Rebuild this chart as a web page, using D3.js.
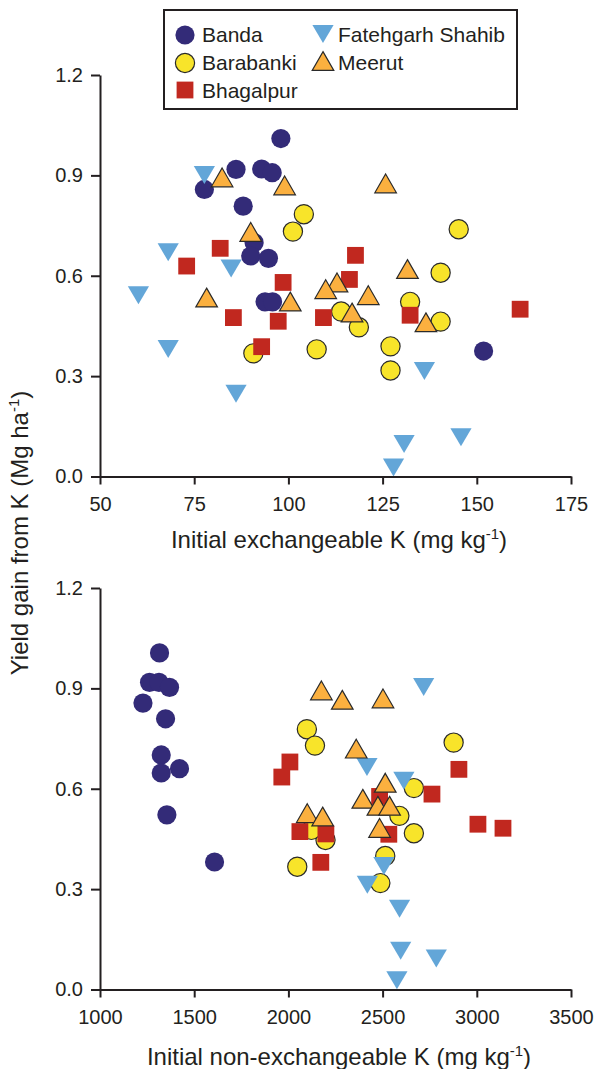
<!DOCTYPE html>
<html>
<head>
<meta charset="utf-8">
<script src="https://cdn.jsdelivr.net/npm/d3@7"></script>
<style>
  html, body { margin: 0; padding: 0; background: #fff; }
  svg { display: block; font-family: "Liberation Sans", Arial, sans-serif; }
</style>
</head>
<body>
<svg id="chart" width="597" height="1069"></svg>
<script>
// ---------- data ----------
const siteNames = ["Banda", "Barabanki", "Bhagalpur", "Fatehgarh Shahib", "Meerut"];
const yTicks = [0.0, 0.3, 0.6, 0.9, 1.2];
const exTicks = [50, 75, 100, 125, 150, 175];
const nonExTicks = [1000, 1500, 2000, 2500, 3000, 3500];

// Top panel: [initial exchangeable K, yield gain]
const bandaEx = [[98.0,1.01],[86.1,0.918],[92.9,0.919],[95.7,0.908],[77.7,0.858],[88.0,0.808],[90.9,0.699],[90.0,0.659],[94.7,0.652],[93.8,0.522],[95.8,0.522],[151.8,0.375]];
const barabankiEx = [[104.1,0.784],[101.2,0.732],[145.2,0.739],[140.4,0.609],[132.3,0.522],[114.0,0.493],[118.7,0.446],[140.4,0.463],[107.5,0.380],[127.1,0.389],[127.1,0.317],[90.7,0.368]];
const bhagalpurEx = [[81.9,0.682],[73.0,0.629],[98.6,0.580],[85.4,0.475],[97.3,0.464],[92.9,0.388],[109.3,0.475],[117.8,0.661],[116.2,0.589],[132.3,0.482],[161.5,0.500]];
const fatehgarhEx = [[77.7,0.901],[68.1,0.670],[84.8,0.622],[60.2,0.542],[68.1,0.381],[86.1,0.247],[136.1,0.315],[130.7,0.097],[145.8,0.117],[127.9,0.027]];
const meerutEx = [[82.4,0.894],[99.0,0.870],[125.8,0.876],[90.0,0.731],[78.3,0.535],[100.5,0.523],[131.6,0.620],[112.9,0.580],[109.9,0.560],[121.2,0.542],[116.9,0.490],[136.5,0.461]];

// Bottom panel: [initial non-exchangeable K, yield gain]
const bandaNonEx = [[1316,1.006],[1263,0.918],[1313,0.918],[1369,0.903],[1228,0.856],[1348,0.809],[1325,0.701],[1325,0.647],[1422,0.660],[1355,0.522],[1608,0.381]];
const barabankiNonEx = [[2098,0.778],[2141,0.729],[2877,0.738],[2666,0.602],[2589,0.519],[2666,0.467],[2197,0.447],[2122,0.477],[2514,0.399],[2047,0.367],[2488,0.318]];
const bhagalpurNonEx = [[2008,0.680],[1965,0.635],[2905,0.658],[2762,0.584],[2484,0.577],[3006,0.494],[3139,0.482],[2061,0.472],[2199,0.465],[2533,0.464],[2172,0.380]];
const fatehgarhNonEx = [[2718,0.904],[2417,0.665],[2613,0.624],[2507,0.369],[2419,0.313],[2590,0.241],[2596,0.116],[2785,0.093],[2576,0.028]];
const meerutNonEx = [[2175,0.894],[2286,0.866],[2502,0.870],[2360,0.720],[2514,0.618],[2395,0.570],[2475,0.549],[2537,0.549],[2100,0.527],[2182,0.517],[2484,0.483]];

// ---------- styles ----------
const styles = {
  "Banda":            {shape: "circle",   fill: "#332B78", stroke: "none"},
  "Barabanki":        {shape: "circle",   fill: "#F8E42A", stroke: "#2a2a2a"},
  "Bhagalpur":        {shape: "square",   fill: "#C1281F", stroke: "none"},
  "Fatehgarh Shahib": {shape: "triDown",  fill: "#63A6D8", stroke: "none"},
  "Meerut":           {shape: "triUp",    fill: "#FBB03F", stroke: "#2a2a2a"}
};
const AXIS_COLOR = "#231F20";

const svg = d3.select("#chart");

function shapePath(shape) {
  if (shape === "square") { const s = 8.4; return `M${-s},${-s}H${s}V${s}H${-s}Z`; }
  if (shape === "triUp")  { const w = 10.8, h = 9.4; return `M0,${-h}L${w},${h}L${-w},${h}Z`; }
  if (shape === "triDown"){ const w = 10.6, h = 9.0; return `M${-w},${-h}L${w},${-h}L0,${h}Z`; }
  return null;
}

function drawMarker(g, site, x, y) {
  const st = styles[site];
  if (st.shape === "circle") {
    g.append("circle").attr("cx", x).attr("cy", y).attr("r", 9.6)
      .attr("fill", st.fill).attr("stroke", st.stroke).attr("stroke-width", st.stroke === "none" ? 0 : 1.2);
  } else {
    g.append("path").attr("d", shapePath(st.shape)).attr("transform", `translate(${x},${y})`)
      .attr("fill", st.fill).attr("stroke", st.stroke).attr("stroke-width", st.stroke === "none" ? 0 : 1.2)
      .attr("stroke-linejoin", "miter");
  }
}

function panel(opts) {
  const x = d3.scaleLinear().domain(opts.xDomain).range([100, 571]);
  const y = d3.scaleLinear().domain([0, 1.2]).range([opts.yBottom, opts.yTop]);
  const g = svg.append("g");

  const series = [[siteNames[0], opts.data[0]], [siteNames[1], opts.data[1]], [siteNames[2], opts.data[2]],
                  [siteNames[3], opts.data[3]], [siteNames[4], opts.data[4]]];
  series.forEach(([site, pts]) => {
    const sg = g.append("g");
    pts.forEach(p => drawMarker(sg, site, x(p[0]), y(p[1])));
  });

  const yAxis = d3.axisLeft(y).tickValues(yTicks).tickFormat(d3.format(".1f")).tickSize(9).tickSizeOuter(0).tickPadding(8);
  const yg = g.append("g").attr("transform", `translate(100,0)`).call(yAxis);
  const xAxis = d3.axisBottom(x).tickValues(opts.xTicks).tickFormat(d3.format("d")).tickSize(8).tickSizeOuter(0).tickPadding(12);
  const xg = g.append("g").attr("transform", `translate(0,${opts.yBottom})`).call(xAxis);
  [yg, xg].forEach(a => {
    a.selectAll("path.domain").attr("stroke", AXIS_COLOR).attr("stroke-width", 2);
    a.selectAll(".tick line").attr("stroke", AXIS_COLOR).attr("stroke-width", 2);
    a.selectAll(".tick text").attr("fill", "#231F20").style("font-size", "20px")
      .style("font-family", '"Liberation Sans", Arial, sans-serif');
  });

  const t = g.append("text").attr("x", 339).attr("y", opts.titleY).attr("text-anchor", "middle")
    .attr("fill", "#231F20").style("font-size", "24px");
  t.append("tspan").text(opts.title + " (mg kg");
  t.append("tspan").text("-1").style("font-size", "15px").attr("dy", -9);
  t.append("tspan").text(")").attr("dy", 9);
}

panel({xDomain: [50, 175], xTicks: exTicks, yTop: 75, yBottom: 476.5, titleY: 548,
       title: "Initial exchangeable K",
       data: [bandaEx, barabankiEx, bhagalpurEx, fatehgarhEx, meerutEx]});
panel({xDomain: [1000, 3500], xTicks: nonExTicks, yTop: 588, yBottom: 989.5, titleY: 1065,
       title: "Initial non-exchangeable K",
       data: [bandaNonEx, barabankiNonEx, bhagalpurNonEx, fatehgarhNonEx, meerutNonEx]});

// y title
const yt = svg.append("text").attr("transform", "translate(28,533) rotate(-90)").attr("text-anchor", "middle")
  .attr("fill", "#231F20").style("font-size", "24px");
yt.append("tspan").text("Yield gain from K (Mg ha");
yt.append("tspan").text("-1").style("font-size", "15px").attr("dy", -9);
yt.append("tspan").text(")").attr("dy", 9);

// legend
const lg = svg.append("g");
lg.append("rect").attr("x", 164).attr("y", 10).attr("width", 353).attr("height", 99)
  .attr("fill", "#fff").attr("stroke", "#231F20").attr("stroke-width", 2);
const legendItems = [
  {site: "Banda", mx: 185, my: 35, tx: 202, ty: 42},
  {site: "Barabanki", mx: 185, my: 63, tx: 202, ty: 70},
  {site: "Bhagalpur", mx: 185, my: 90, tx: 202, ty: 98},
  {site: "Fatehgarh Shahib", mx: 323, my: 34, tx: 338, ty: 42},
  {site: "Meerut", mx: 323, my: 61, tx: 338, ty: 70}
];
legendItems.forEach(it => {
  drawMarker(lg, it.site, it.mx, it.my);
  lg.append("text").attr("x", it.tx).attr("y", it.ty).text(it.site)
    .attr("fill", "#231F20").style("font-size", "21px");
});
</script>
</body>
</html>
